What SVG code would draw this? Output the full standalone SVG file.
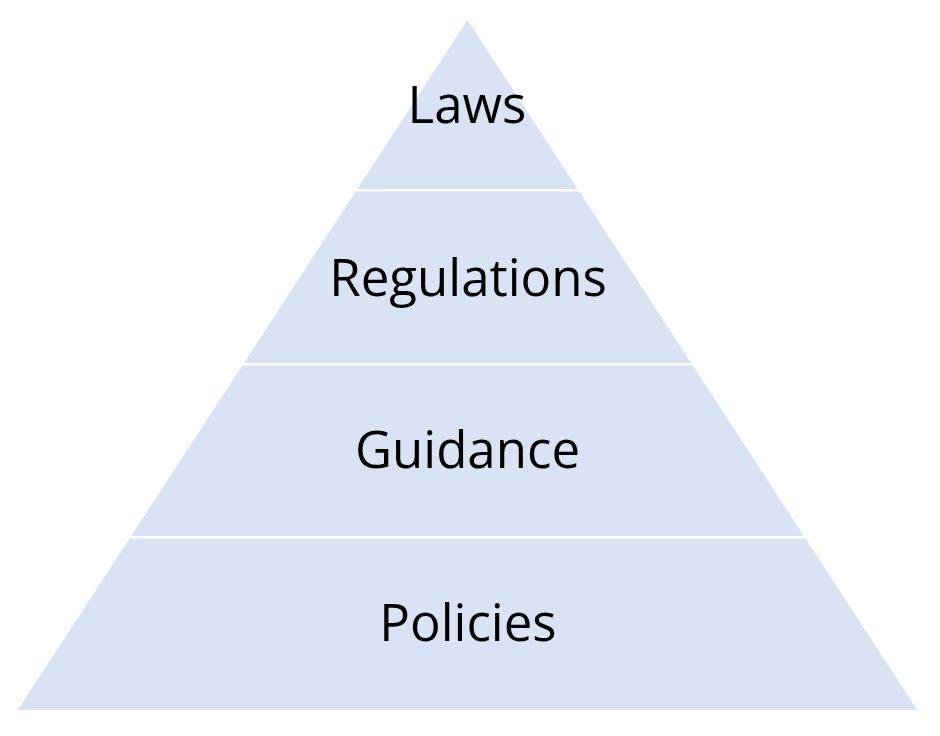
<svg xmlns="http://www.w3.org/2000/svg" width="940" height="736" viewBox="0 0 940 736">
  <style>
    .band { fill: #DAE3F3; stroke: none; }
    .label { font-family: "Open Sans", "Liberation Sans", sans-serif; font-size: 51px; fill: #000000; text-anchor: middle; }
  </style>
  <rect width="940" height="736" fill="#FFFFFF"/>
  <g id="laws">
    <polygon class="band" points="467.5,20 577.7,189 357.3,189"/>
    <text class="label" x="467" y="122.5">Laws</text>
  </g>
  <g id="regulations">
    <polygon class="band" points="355.7,191.5 579.3,191.5 691.1,363 243.9,363"/>
    <text class="label" x="468" y="295.5">Regulations</text>
  </g>
  <g id="guidance">
    <polygon class="band" points="242.3,365.5 692.7,365.5 803.9,536 131.1,536"/>
    <text class="label" x="467.5" y="467.5">Guidance</text>
  </g>
  <g id="policies">
    <polygon class="band" points="129.5,538.5 805.5,538.5 917.3,710 17.7,710"/>
    <text class="label" x="468" y="640.5">Policies</text>
  </g>
  <g id="connectors"></g>
</svg>
